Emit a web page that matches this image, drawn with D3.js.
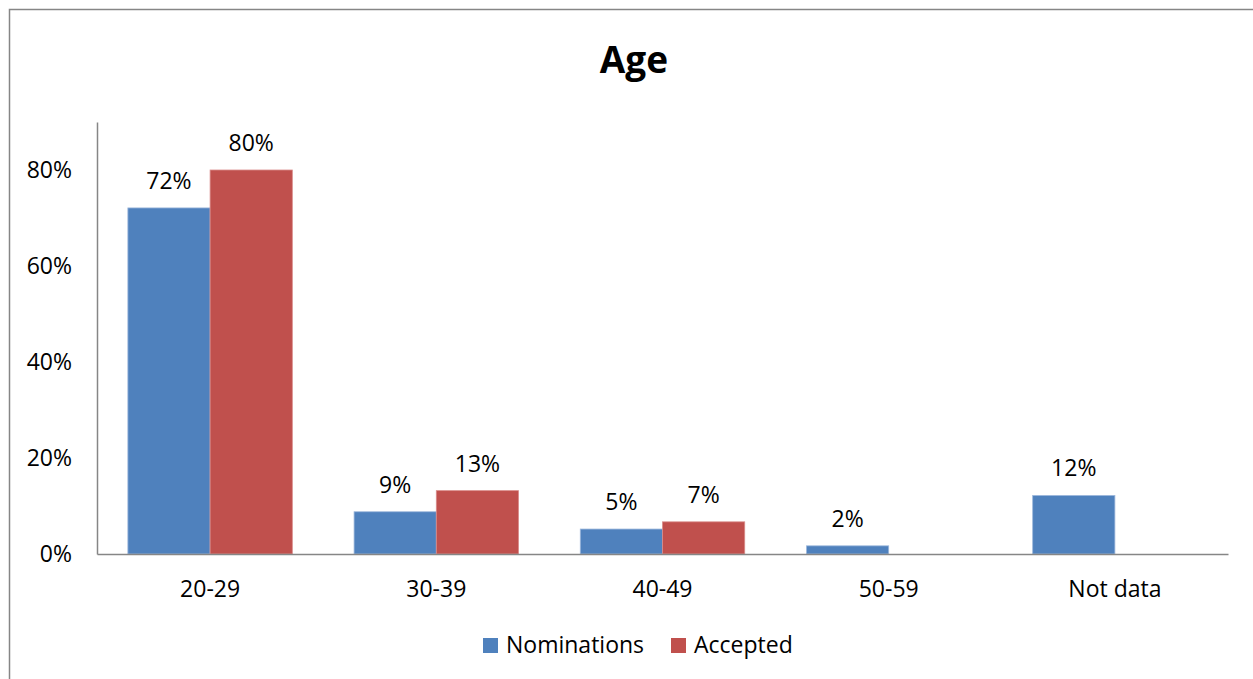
<!DOCTYPE html>
<html>
<head>
<meta charset="utf-8">
<script src="https://cdn.jsdelivr.net/npm/d3@7"></script>
<style>
	body { margin: 0; background: #fff; }
	svg { display: block; font-family: "Open Sans", sans-serif; }
</style>
</head>
<body>
<div id="chart"></div>
<script>
let categories = ["20-29", "30-39", "40-49", "50-59", "Not data"];
let seriesNames = ["Nominations", "Accepted"];
let nominations = [0.721, 0.088, 0.052, 0.017, 0.122];
let accepted = [0.80, 0.132, 0.067, null, null];
let yTicks = [0, 0.2, 0.4, 0.6, 0.8];

let COLORS = ["#4F81BD", "#C0504D"];
let FONT_SIZE = 23;
let WIDTH = 1253;
let HEIGHT = 679;
let margin = { top: 122, right: 25, bottom: 125, left: 97 };

let svg = d3.select("#chart").append("svg").
	attr("width", WIDTH).
	attr("height", HEIGHT);

// outer chart border, runs off the right and bottom edge
svg.append("rect").
	attr("x", 9.5).
	attr("y", 9.5).
	attr("width", WIDTH).
	attr("height", HEIGHT).
	attr("fill", "none").
	attr("stroke", "#868686").
	attr("stroke-width", 1.5);

svg.append("text").
	attr("x", 634).
	attr("y", 73).
	attr("text-anchor", "middle").
	attr("font-size", 37).
	attr("font-weight", "bold").
	text("Age");

let x = d3.scaleBand().
	domain(categories).
	range([margin.left, WIDTH - margin.right]).
	paddingInner(0.273).
	paddingOuter(0.1365);

let x1 = d3.scaleBand().
	domain(seriesNames).
	range([0, x.bandwidth()]);

let y = d3.scaleLinear().
	domain([0, 0.9]).
	range([HEIGHT - margin.bottom, margin.top]);

let rows = categories.map((c, i) => ({
	cat: c,
	vals: [
		{ s: seriesNames[0], v: nominations[i], ci: 0 },
		{ s: seriesNames[1], v: accepted[i], ci: 1 }
	].filter(d => d.v != null)
}));

let groups = svg.append("g").
	selectAll("g").
	data(rows).
	join("g").
	attr("transform", d => `translate(${x(d.cat)},0)`);

groups.selectAll("rect").
	data(d => d.vals).
	join("rect").
	attr("x", d => x1(d.s)).
	attr("y", d => y(d.v)).
	attr("width", x1.bandwidth()).
	attr("height", d => y(0) - y(d.v)).
	attr("fill", d => COLORS[d.ci]).
	attr("stroke", d => d.ci ? "#d98c8a" : "#9db8dc").
	attr("stroke-width", 0.8);

groups.selectAll("text").
	data(d => d.vals).
	join("text").
	attr("x", d => x1(d.s) + x1.bandwidth() / 2).
	attr("y", d => y(d.v) - 19).
	attr("text-anchor", "middle").
	attr("font-size", FONT_SIZE).
	attr("fill", "#000").
	text(d => Math.round(d.v * 100) + "%");

// y axis
let yAxis = svg.append("g").
	attr("transform", `translate(${margin.left},0)`).
	call(d3.axisLeft(y).tickValues(yTicks).tickSize(0).tickPadding(25).tickFormat(d3.format(".0%")));
yAxis.select(".domain").attr("stroke", "#868686").attr("stroke-width", 1.5);
yAxis.selectAll("text").attr("font-size", FONT_SIZE).attr("font-family", "Open Sans").attr("fill", "#000");

// x axis
let xAxis = svg.append("g").
	attr("transform", `translate(0,${y(0)})`).
	call(d3.axisBottom(x).tickSize(0).tickPadding(27));
xAxis.select(".domain").attr("stroke", "#868686").attr("stroke-width", 1.5);
xAxis.selectAll("text").attr("font-size", FONT_SIZE).attr("font-family", "Open Sans").attr("fill", "#000");

// legend
let legend = svg.append("g").
	attr("transform", "translate(483,653)");
let legendX = [0, 188];
seriesNames.forEach((name, i) => {
	let g = legend.append("g").attr("transform", `translate(${legendX[i]},0)`);
	g.append("rect").
		attr("x", 0).
		attr("y", -15).
		attr("width", 15).
		attr("height", 15).
		attr("fill", COLORS[i]);
	g.append("text").
		attr("x", 23).
		attr("y", 0).
		attr("font-size", FONT_SIZE).
		text(name);
});
</script>
</body>
</html>
